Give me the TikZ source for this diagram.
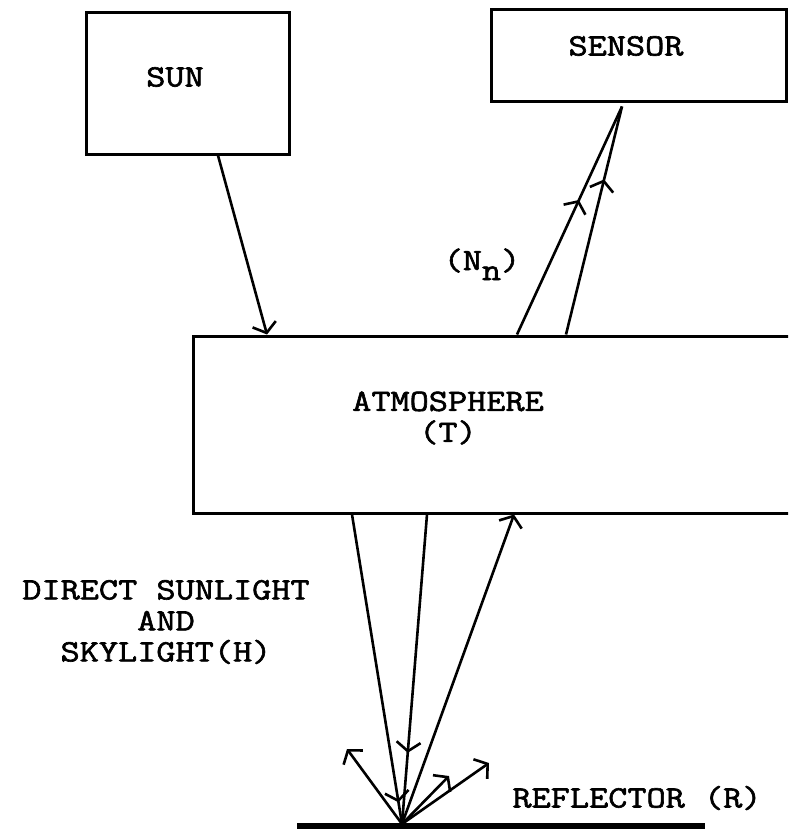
\documentclass[tikz,border=0pt]{standalone}
\usepackage{fontspec}
\setmonofont[FakeStretch=1.2,FakeBold=2]{Latin Modern Mono}
\usetikzlibrary{arrows.meta,decorations.markings,calc}
\begin{document}
\begin{tikzpicture}[x=1pt,y=-1pt,
  box/.style={draw,line width=3pt,inner sep=0pt},
  lbl/.style={font=\ttfamily\fontsize{31}{31}\selectfont,align=center,inner sep=0pt},
  ray/.style={line width=2.6pt},
  barbtip/.style={-{Straight Barb[length=9pt,width=24pt]}},
  midarrow/.style={postaction={decorate},decoration={markings,mark=at position #1 with {\arrow{Straight Barb[length=9pt,width=24pt]}}}}
]
\useasboundingbox (0,0) rectangle (788,830);
\clip (0,0) rectangle (788,830);
% boxes
\node[box,minimum width=203pt,minimum height=142pt] (sun) at (187.5,83) {};
\node[lbl] (sunt) at (175,77) {SUN};
\node[box,minimum width=295pt,minimum height=92pt] (sensor) at (638.5,55) {};
\node[lbl] (sensort) at (626,46) {SENSOR};
\node[box,minimum width=620pt,minimum height=177pt] (atm) at (503,424.5) {};
\node[lbl] (atmt) at (448,418) {ATMOSPHERE\\(T)};
% labels
\node[lbl,anchor=base] (nn) at (482,270) {(N\raisebox{-10pt}{n})};
\node[lbl] (dsl) at (166,622) {DIRECT SUNLIGHT\\AND\\SKYLIGHT(H)};
\node[lbl] (refl) at (637,798) {REFLECTOR (R)};
% reflector
\coordinate (r) at (402,824);
\coordinate (gl) at (297,826);
\coordinate (gr) at (705,826);
\draw[line width=5.5pt] (gl) -- (gr);
% sun to atmosphere
\draw[ray,barbtip] ($(sun.south)+(30.5,0)$) -- ($(atm.north)+(-236,0)$);
% atmosphere to sensor
\coordinate (apex) at ($(sensor.south)+(-16.5,4)$);
\draw[ray,midarrow=0.59] ($(atm.north)+(14,0)$) -- (apex);
\draw[ray,midarrow=0.68] ($(atm.north)+(63,0)$) -- (apex);
% atmosphere to reflector
\draw[ray,midarrow=0.93] ($(atm.south)+(-151,0)$) -- (r);
\draw[ray,midarrow=0.77] ($(atm.south)+(-76,0)$) -- (r);
\draw[ray,barbtip] (r) -- ($(atm.south)+(11,0)$);
% reflected rays
\coordinate (e1) at (347,749);
\coordinate (e2) at (449,776);
\coordinate (e3) at (489,763);
\draw[ray,barbtip] (r) -- (e1);
\draw[ray,barbtip] (r) -- (e2);
\draw[ray,barbtip] (r) -- (e3);
\end{tikzpicture}
\end{document}
